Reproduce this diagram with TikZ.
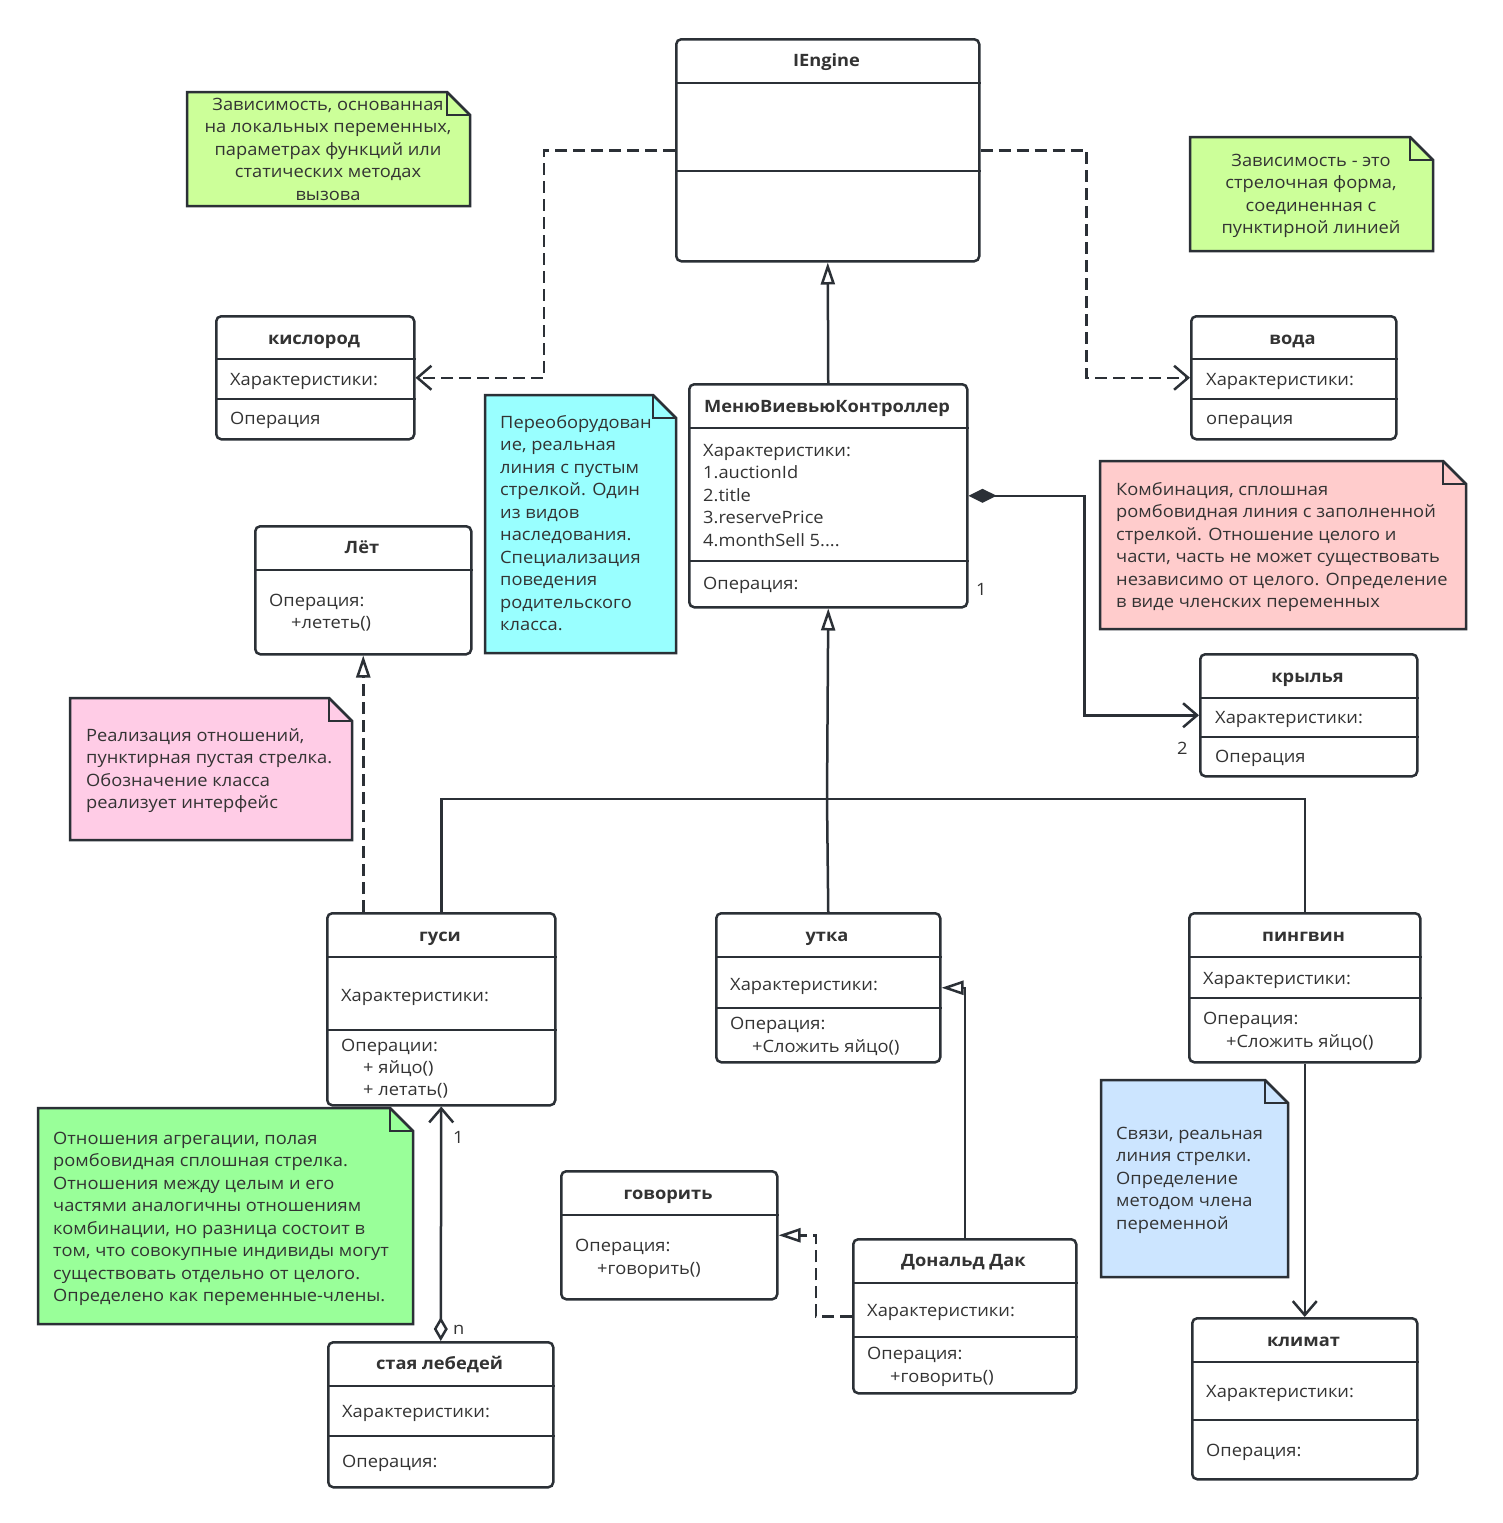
\documentclass[tikz,border=0pt]{standalone}
\usepackage{fontspec}
\setmainfont{Open Sans}[FakeStretch=1.075]
\usetikzlibrary{arrows.meta}
\definecolor{lc}{HTML}{2B3036}
\definecolor{tc}{HTML}{333333}
\definecolor{nlime}{HTML}{CCFF99}
\definecolor{ncyan}{HTML}{99FFFF}
\definecolor{nrose}{HTML}{FFCCCC}
\definecolor{npink}{HTML}{FFCCE6}
\definecolor{ngreen}{HTML}{99FF99}
\definecolor{nblue}{HTML}{CCE5FF}
\newcommand\fs{\fontsize{17}{22.5}\selectfont}
\newcommand\fb{\fontsize{17}{22.5}\selectfont\bfseries}
\newcommand\mlines[2]{\begin{tabular}[t]{@{}#1@{}}#2\end{tabular}}
\newcommand\hdiv[2]{\draw[divl] (#1.west |- 0,#2) -- (#1.east |- 0,#2);}
\newcommand\notebox[5]{%
  \filldraw[notel, fill=#5] (#1,#2) -- (#3-23,#2) -- (#3,#2+23) -- (#3,#4) -- (#1,#4) -- cycle;
  \draw[notel] (#3-23,#2) -- (#3-23,#2+23) -- (#3,#2+23);}
\tikzset{
  cls/.style={draw=lc, line width=2.5pt, rounded corners=5pt, fill=white, anchor=north west, inner sep=0pt},
  divl/.style={draw=lc, line width=2.5pt},
  notel/.style={draw=lc, line width=2.5pt, line join=miter},
  conn/.style={draw=lc, line width=2.5pt},
  dashd/.style={dash pattern=on 12pt off 6pt},
  inh/.style={conn, -{Triangle[open, length=22pt, width=14pt]}},
  realz/.style={conn, dashd, -{Triangle[open, length=22pt, width=14pt]}},
  depd/.style={conn, dashd, -{Straight Barb[length=14pt, width=24pt]}},
  assoc/.style={conn, -{Straight Barb[length=14pt, width=24pt]}},
  txt/.style={font=\fs, text=tc, inner sep=0pt, anchor=base west},
  ttl/.style={font=\fb, text=tc, inner sep=0pt, anchor=base},
  ntxt/.style={font=\fs, text=tc, inner sep=0pt},
}
\begin{document}
\begin{tikzpicture}[x=1pt, y=-1pt]
\useasboundingbox[fill=white] (0,0) rectangle (1503,1523);

% ---------- notes ----------
\notebox{187}{92}{470}{206}{nlime}
\node[ntxt, anchor=base] (n1) at (328,110) {\mlines{c}{Зависимость, основанная\\на локальных переменных,\\параметрах функций или\\статических методах\\вызова}};
\notebox{1190}{137}{1433}{251}{nlime}
\node[ntxt, anchor=base] (n2) at (1311,166) {\mlines{c}{Зависимость - это\\стрелочная форма,\\соединенная с\\пунктирной линией}};
\notebox{485}{395}{676}{653}{ncyan}
\node[ntxt, anchor=base west] (n3) at (500,428) {\mlines{l}{Переоборудован\\ие, реальная\\линия с пустым\\стрелкой. Один\\из видов\\наследования.\\Специализация\\поведения\\родительского\\класса.}};
\notebox{1100}{461}{1466}{629}{nrose}
\node[ntxt, anchor=base west] (n4) at (1116,495) {\mlines{l}{Комбинация, сплошная\\ромбовидная линия с заполненной\\стрелкой. Отношение целого и\\части, часть не может существовать\\независимо от целого. Определение\\в виде членских переменных}};
\notebox{70}{698}{352}{840}{npink}
\node[ntxt, anchor=base west] (n5) at (86,741) {\mlines{l}{Реализация отношений,\\пунктирная пустая стрелка.\\Обозначение класса\\реализует интерфейс}};
\notebox{38}{1108}{413}{1324}{ngreen}
\node[ntxt, anchor=base west] (n6) at (53,1144) {\mlines{l}{Отношения агрегации, полая\\ромбовидная сплошная стрелка.\\Отношения между целым и его\\частями аналогичны отношениям\\комбинации, но разница состоит в\\том, что совокупные индивиды могут\\существовать отдельно от целого.\\Определено как переменные-члены.}};
\notebox{1101}{1080}{1288}{1277}{nblue}
\node[ntxt, anchor=base west] (n7) at (1116,1139) {\mlines{l}{Связи, реальная\\линия стрелки.\\Определение\\методом члена\\переменной}};

% ---------- classes ----------
\node[cls, minimum width=303, minimum height=222] (ie) at (675,38) {};
\hdiv{ie}{83}\hdiv{ie}{171}
\node[ttl] (ie-t) at (826.5,66) {IEngine};

\node[cls, minimum width=198, minimum height=123] (kisl) at (215,315) {};
\hdiv{kisl}{359}\hdiv{kisl}{399}
\node[ttl] (kisl-t) at (314,344) {кислород};
\node[txt] (kisl-a) at (230,385) {Характеристики:};
\node[txt] (kisl-o) at (230,424) {Операция};

\node[cls, minimum width=205, minimum height=123] (voda) at (1190,315) {};
\hdiv{voda}{359}\hdiv{voda}{399}
\node[ttl] (voda-t) at (1292.5,344) {вода};
\node[txt] (voda-a) at (1206,385) {Характеристики:};
\node[txt] (voda-o) at (1206,424) {операция};

\node[cls, minimum width=278, minimum height=223] (menu) at (688,383) {};
\hdiv{menu}{428}\hdiv{menu}{561}
\node[ttl] (menu-t) at (827,412) {МенюВиевьюКонтроллер};
\node[txt] (menu-a) at (703,456) {\mlines{l}{Характеристики:\\1.auctionId\\2.title\\3.reservePrice\\4.monthSell 5....}};
\node[txt] (menu-o) at (703,589) {Операция:};

\node[cls, minimum width=217, minimum height=122] (kryl) at (1199,653) {};
\hdiv{kryl}{698}\hdiv{kryl}{737}
\node[ttl] (kryl-t) at (1307.5,682) {крылья};
\node[txt] (kryl-a) at (1215,723) {Характеристики:};
\node[txt] (kryl-o) at (1215,762) {Операция};

\node[cls, minimum width=216, minimum height=128] (let) at (254,525) {};
\hdiv{let}{570}
\node[ttl] (let-t) at (362,553) {Лёт};
\node[txt] (let-o) at (269,606) {Операция:};
\node[txt] (let-m) at (291,628) {+лететь()};

\node[cls, minimum width=228, minimum height=192] (gusi) at (326,912) {};
\hdiv{gusi}{957}\hdiv{gusi}{1030}
\node[ttl] (gusi-t) at (440,941) {гуси};
\node[txt] (gusi-a) at (341,1001) {Характеристики:};
\node[txt] (gusi-o) at (341,1051) {Операции:};
\node[txt] (gusi-m) at (363,1073) {\mlines{l}{+ яйцо()\\+ летать()}};

\node[cls, minimum width=224, minimum height=149] (utka) at (715,912) {};
\hdiv{utka}{957}\hdiv{utka}{1008}
\node[ttl] (utka-t) at (827,941) {утка};
\node[txt] (utka-a) at (730,990) {Характеристики:};
\node[txt] (utka-o) at (730,1029) {Операция:};
\node[txt] (utka-m) at (752,1052) {+Сложить яйцо()};

\node[cls, minimum width=231, minimum height=149] (ping) at (1188,912) {};
\hdiv{ping}{957}\hdiv{ping}{998}
\node[ttl] (ping-t) at (1303.5,941) {пингвин};
\node[txt] (ping-a) at (1203,984) {Характеристики:};
\node[txt] (ping-o) at (1203,1024) {Операция:};
\node[txt] (ping-m) at (1226,1047) {+Сложить яйцо()};

\node[cls, minimum width=225, minimum height=161] (klim) at (1191,1317) {};
\hdiv{klim}{1362}\hdiv{klim}{1420}
\node[ttl] (klim-t) at (1303.5,1346) {климат};
\node[txt] (klim-a) at (1206,1397) {Характеристики:};
\node[txt] (klim-o) at (1206,1456) {Операция:};

\node[cls, minimum width=223, minimum height=154] (dd) at (852,1238) {};
\hdiv{dd}{1283}\hdiv{dd}{1337}
\node[ttl] (dd-t) at (963.5,1266) {Дональд Дак};
\node[txt] (dd-a) at (867,1316) {Характеристики:};
\node[txt] (dd-o) at (867,1359) {Операция:};
\node[txt] (dd-m) at (890,1382) {+говорить()};

\node[cls, minimum width=216, minimum height=128] (gov) at (560,1170) {};
\hdiv{gov}{1215}
\node[ttl] (gov-t) at (668,1199) {говорить};
\node[txt] (gov-o) at (575,1251) {Операция:};
\node[txt] (gov-m) at (597,1274) {+говорить()};

\node[cls, minimum width=225, minimum height=145] (swan) at (327,1341) {};
\hdiv{swan}{1386}\hdiv{swan}{1436}
\node[ttl] (swan-t) at (439.5,1369) {стая лебедей};
\node[txt] (swan-a) at (342,1417) {Характеристики:};
\node[txt] (swan-o) at (342,1467) {Операция:};

% ---------- connectors ----------
\draw[depd] (ie.west) -- ++(-131,0) |- (kisl.east);
\draw[depd] (ie.east) -- ++(106,0) |- (voda.west);
\draw[inh] (menu.north) -- (ie.south);
\draw[conn, {Diamond[length=28pt, width=14pt]}-{Straight Barb[length=14pt, width=24pt]}] (menu.east) -- ++(116,0) |- (kryl.west);
\node[txt] (l1) at (976,595) {1};
\node[txt] (l2) at (1177,754) {2};

\coordinate (j) at (827,799);
\draw[inh] (j) -- (menu.south);
\draw[conn] (gusi.north) |- (j) -| (ping.north);
\draw[conn] (utka.north) -- (j);

\draw[realz] (let.south |- gusi.north) -- (let.south);
\draw[assoc] (ping.south) -- (klim.north);
\draw[inh] (dd.north) |- (utka.east);
\draw[realz] (dd.west) -- ++(-36,0) |- (gov.east);

\draw[conn, {Diamond[open, length=24pt, width=14pt]}-{Straight Barb[length=14pt, width=24pt]}] (swan.north) -- (gusi.south);
\node[txt] (l3) at (453,1143) {1};
\node[txt] (l4) at (453,1334) {n};
\end{tikzpicture}
\end{document}
